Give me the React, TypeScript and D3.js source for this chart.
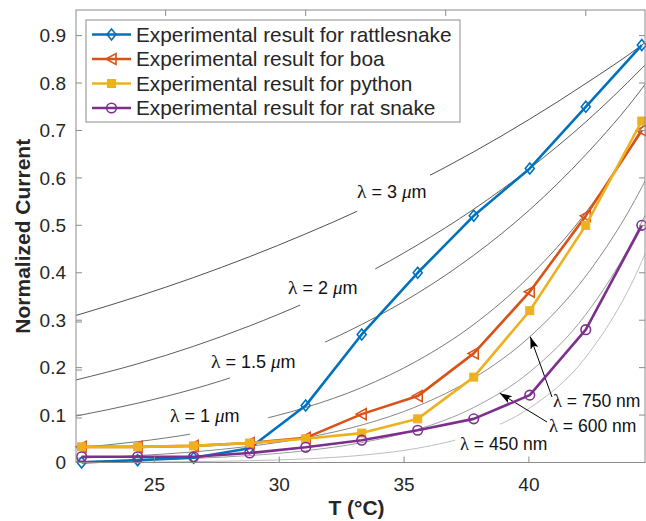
import React from "react";
import * as d3 from "d3";

// ---------- data ----------
const temps = [22, 24, 26, 28, 30, 32, 34, 36, 38, 40, 42];
const rattlesnake = [0, 0.005, 0.01, 0.03, 0.12, 0.27, 0.4, 0.52, 0.62, 0.75, 0.88];
const boa = [0.033, 0.033, 0.035, 0.041, 0.052, 0.102, 0.14, 0.23, 0.36, 0.52, 0.7];
const python = [0.033, 0.033, 0.035, 0.041, 0.05, 0.062, 0.092, 0.18, 0.32, 0.5, 0.72];
const ratSnake = [0.012, 0.012, 0.012, 0.02, 0.032, 0.047, 0.068, 0.092, 0.142, 0.28, 0.5];

const seriesNames = [
  "Experimental result for rattlesnake",
  "Experimental result for boa",
  "Experimental result for python",
  "Experimental result for rat snake",
];

const theoryTemps = [21.8, 24, 26, 28, 30, 32, 34, 36, 38, 40, 42, 42.2];
const curve3um = [0.31, 0.35, 0.39, 0.434, 0.482, 0.534, 0.592, 0.655, 0.724, 0.799, 0.88, 0.889];
const curve2um = [0.174, 0.208, 0.245, 0.288, 0.337, 0.393, 0.459, 0.534, 0.62, 0.718, 0.831, 0.843];
const curve1p5um = [0.098, 0.125, 0.155, 0.192, 0.236, 0.291, 0.357, 0.437, 0.533, 0.649, 0.788, 0.804];
const curve1um = [0.031, 0.044, 0.061, 0.085, 0.116, 0.158, 0.215, 0.291, 0.393, 0.527, 0.706, 0.727];
const curve750nm = [0.009, 0.0145, 0.0224, 0.0342, 0.0521, 0.0789, 0.119, 0.178, 0.265, 0.393, 0.58, 0.603];
const curve600nm = [0.0028, 0.005, 0.0087, 0.0147, 0.0249, 0.0419, 0.0698, 0.116, 0.191, 0.312, 0.507, 0.532];
const curve450nm = [0.0004, 0.0009, 0.0019, 0.0038, 0.0076, 0.0153, 0.0302, 0.0592, 0.115, 0.222, 0.424, 0.452];

const curveLabels = ["3 ", "2 ", "1.5 ", "1 ", "750 nm", "600 nm", "450 nm"];
// temperature ranges where each curve is interrupted by its label
const gapFrom = [31.84, 29.8, 27.3, 25.87, null, null, 35.34];
const gapTo = [34.44, 32.48, 30.69, 28.66, null, null, 36.94];

const xTicks = [25, 30, 35, 40];
const yTicks = [0, 0.1, 0.2, 0.3, 0.4, 0.5, 0.6, 0.7, 0.8, 0.9];
const yTicksOverlay = [0.1, 0.2, 0.3];

// ---------- layout / style ----------
const W = 646;
const H = 521;
const L = 76, R = 645, T = 10, B = 462.5;
const FONT = "'Liberation Sans', Arial, Helvetica, sans-serif";
const SERIF = "'Liberation Serif', 'DejaVu Serif', serif";
const colors = ["#0072BD", "#D95319", "#EDB120", "#7E2F8E"];
const markers = ["diamond", "triangle", "square", "circle"];
const curveColors = ["#3c3c3c", "#4a4a4a", "#555555", "#666666", "#7a7a7a", "#939393", "#b5b5b5"];
// label anchor positions (pixels) for the curve annotations
const labelPos = [
  [357, 192], [288, 288], [211, 362], [170, 416], [553, 401], [549, 426], [460, 444],
];

// data axis (top ticks) and the labelled bottom axis of the overlaid figure
const x = d3.scaleLinear().domain([21.8, 42.15]).range([L, L + 570]);
const xLabelAxis = d3.scaleLinear().domain([21.86, 44.65]).range([L, R]);
const y = d3.scaleLinear().domain([0, 0.954]).range([B, T]);
const yOverlay = d3.scaleLinear().domain([0, 0.95]).range([466, T]);

function Marker({ type, cx, cy, color }: { type: string; cx: number; cy: number; color: string }) {
  if (type === "diamond")
    return (
      <path
        d={`M${cx},${cy - 5.5}L${cx + 4.5},${cy}L${cx},${cy + 5.5}L${cx - 4.5},${cy}Z`}
        fill="none" stroke={color} strokeWidth={1.6}
      />
    );
  if (type === "triangle")
    return (
      <path
        d={`M${cx - 5.5},${cy}L${cx + 4.5},${cy - 5.5}L${cx + 4.5},${cy + 5.5}Z`}
        fill="none" stroke={color} strokeWidth={1.6}
      />
    );
  if (type === "square")
    return <rect x={cx - 4} y={cy - 4} width={8} height={8} fill={color} stroke={color} strokeWidth={1} />;
  return <circle cx={cx} cy={cy} r={4.8} fill="none" stroke={color} strokeWidth={1.6} />;
}

export default function App() {
  const theory = [curve3um, curve2um, curve1p5um, curve1um, curve750nm, curve600nm, curve450nm];
  const dataSeries = [rattlesnake, boa, python, ratSnake];

  const theoryLine = d3
    .line<number>()
    .x((_, i) => x(theoryTemps[i]))
    .y((d) => y(d))
    .curve(d3.curveMonotoneX);

  const dataLine = d3
    .line<number>()
    .x((_, i) => x(temps[i]))
    .y((d) => y(d));

  const axisColor = "#8c8c8c";
  const textColor = "#262626";

  return (
    <svg width={W} height={H} style={{ position: "absolute", left: 0, top: 0, background: "#fff" }}
      fontFamily={FONT}>
      <defs>
        <clipPath id="plotClip">
          <rect x={L} y={T} width={R - L} height={B - T} />
        </clipPath>
        {theory.map((_, k) =>
          gapFrom[k] != null ? (
            <mask id={`gap${k}`} key={k} maskUnits="userSpaceOnUse" x={0} y={0} width={W} height={H}>
              <rect x={0} y={0} width={W} height={H} fill="#fff" />
              <rect x={x(gapFrom[k] as number)} y={0} width={x(gapTo[k] as number) - x(gapFrom[k] as number)} height={H} fill="#000" />
            </mask>
          ) : null
        )}
        <marker id="arrowHead" viewBox="0 0 12 8" refX={12} refY={4} markerWidth={12} markerHeight={8}
          markerUnits="userSpaceOnUse" orient="auto">
          <path d="M0,0L12,4L0,8L2.5,4Z" fill="#000" />
        </marker>
      </defs>

      <rect x={L} y={T} width={R - L} height={B - T} fill="#fff" stroke="none" />

      {/* theory curves */}
      <g clipPath="url(#plotClip)">
        {theory.map((c, k) => (
          <path key={k} d={theoryLine(c) || ""} fill="none" stroke={curveColors[k]} strokeWidth={0.9}
            mask={gapFrom[k] != null ? `url(#gap${k})` : undefined} />
        ))}
      </g>

      {/* curve labels */}
      {curveLabels.map((lab, k) => (
        <text key={k} x={labelPos[k][0]} y={labelPos[k][1]} dy="0.35em" fontSize={k < 4 ? 18 : 17.5} fill="#111">
          <tspan fontFamily={SERIF} fontSize={k < 4 ? 19.5 : 18.5}>λ</tspan>
          <tspan> = {lab}</tspan>
          {k < 4 ? <tspan fontFamily={SERIF} fontStyle="italic" fontSize={19}>μ</tspan> : null}
          {k < 4 ? <tspan>m</tspan> : null}
        </text>
      ))}

      {/* arrows */}
      <line x1={552} y1={397} x2={x(38.02)} y2={y(0.265)} stroke="#000" strokeWidth={1} markerEnd="url(#arrowHead)" />
      <line x1={547} y1={422} x2={x(36.93)} y2={y(0.146)} stroke="#000" strokeWidth={1} markerEnd="url(#arrowHead)" />

      {/* experimental series */}
      {dataSeries.map((s, k) => (
        <g key={k}>
          <path d={dataLine(s) || ""} fill="none" stroke={colors[k]} strokeWidth={2.6} strokeLinejoin="round" />
          {s.map((v, i) => (
            <Marker key={i} type={markers[k]} cx={x(temps[i])} cy={y(v)} color={colors[k]} />
          ))}
        </g>
      ))}

      {/* frame */}
      <rect x={L} y={T} width={R - L} height={B - T} fill="none" stroke={axisColor} strokeWidth={1} />

      {/* bottom (labelled) x axis */}
      {xTicks.map((t) => (
        <g key={`b${t}`}>
          <line x1={xLabelAxis(t)} x2={xLabelAxis(t)} y1={B} y2={B - 6} stroke={axisColor} />
          <text x={xLabelAxis(t)} y={B + 22} dy="0.35em" textAnchor="middle" fontSize={19} fill={textColor}>{t}</text>
        </g>
      ))}
      {/* top ticks of the data axis */}
      {xTicks.map((t) => (
        <line key={`t${t}`} x1={x(t)} x2={x(t)} y1={T} y2={T + 6} stroke={axisColor} />
      ))}
      {/* y ticks */}
      {yTicks.map((t) => (
        <g key={t}>
          <line x1={L} x2={L + 6} y1={y(t)} y2={y(t)} stroke={axisColor} />
          <line x1={R} x2={R - 6} y1={y(t)} y2={y(t)} stroke={axisColor} />
          <text x={L - 10} y={y(t)} dy="0.35em" textAnchor="end" fontSize={19} fill={textColor}>{t === 0 ? "0" : t.toFixed(1)}</text>
        </g>
      ))}
      {yTicksOverlay.map((t) => (
        <line key={`o${t}`} x1={L} x2={L + 6} y1={yOverlay(t)} y2={yOverlay(t)} stroke={axisColor} />
      ))}

      {/* axis labels */}
      <text x={(L + R) / 2 - 4} y={508} dy="0.35em" textAnchor="middle" fontSize={21} fontWeight="bold" fill={textColor}>T (°C)</text>
      <text transform={`translate(23,${(T + B) / 2}) rotate(-90)`} dy="0.35em" textAnchor="middle" fontSize={21}
        fontWeight="bold" fill={textColor}>Normalized Current</text>

      {/* legend */}
      <g>
        <rect x={86} y={20} width={374} height={102} fill="#fff" stroke={axisColor} strokeWidth={1} />
        {seriesNames.map((name, k) => {
          const ly = 34.5 + k * 24.5;
          return (
            <g key={k}>
              <line x1={92} x2={131} y1={ly} y2={ly} stroke={colors[k]} strokeWidth={2.6} />
              <Marker type={markers[k]} cx={111.5} cy={ly} color={colors[k]} />
              <text x={136} y={ly} dy="0.35em" fontSize={20.8} fill={textColor}>{name}</text>
            </g>
          );
        })}
      </g>
    </svg>
  );
}
